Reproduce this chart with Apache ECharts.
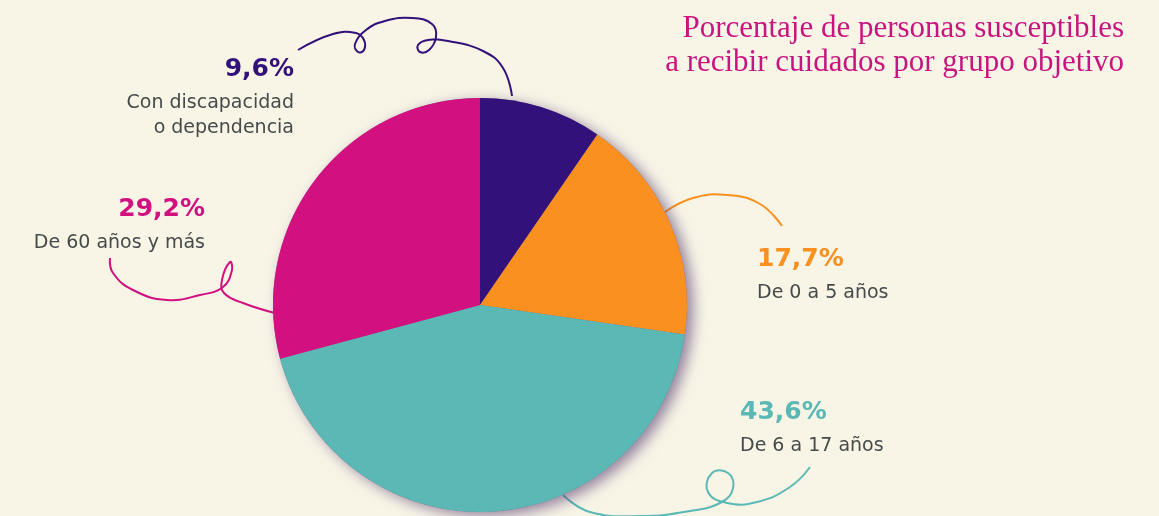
<!DOCTYPE html>
<html><head><meta charset="utf-8">
<script src="https://cdn.jsdelivr.net/npm/echarts@6/dist/echarts.min.js"></script>
<style>html,body{margin:0;padding:0;background:#F8F5E7;}#c{width:1159px;height:516px;}</style>
</head><body><div id="c"></div>
<script>
const categories = ['Con discapacidad\no dependencia', 'De 0 a 5 años', 'De 6 a 17 años', 'De 60 años y más'];
const values = [9.6, 17.7, 43.6, 29.2];
const valueLabels = ['9,6%', '17,7%', '43,6%', '29,2%'];
const colors = ['#33117A', '#F99020', '#5BB8B5', '#D2107F'];
const titleLines = ['Porcentaje de personas susceptibles', 'a recibir cuidados por grupo objetivo'];

// label anchor placement (layout, not data)
const labelPos = [
  {x: 294, y: 47, align: 'right'},
  {x: 757, y: 237, align: 'left'},
  {x: 740, y: 390, align: 'left'},
  {x: 205, y: 187, align: 'right'}
];

const chart = echarts.init(document.getElementById('c'), null, {renderer: 'canvas'});

function swirl(points, color) {
  return {type: 'polyline', z: 1, shape: {points: points, smooth: 0.45},
    style: {stroke: color, lineWidth: 2, fill: null}, silent: true};
}

const total = values.reduce((a, b) => a + b, 0);

chart.setOption({
  backgroundColor: '#F8F5E7',
  animation: false,
  graphic: [
    {type: 'text', x: 1124, y: 12, z: 10, style: {text: titleLines.join('\n'), align: 'right', verticalAlign: 'top',
      fill: '#C8147E', font: '31px "Liberation Serif"', lineHeight: 34}},
    swirl([[298,50],[333,34],[356,33],[364,40],[364,50],[358,52],[355,44],[366,30],[385,21],[412,18],[432,24],[436,37],[429,50],[420,52],[418,45],[428,40],[448,41],[483,51],[503,68],[512,96]], colors[0]),
    swirl([[665,212],[693,198],[727,195],[760,204],[782,226]], colors[1]),
    swirl([[563,495],[590,512],[640,516],[690,511],[722,502],[733,488],[728,473],[712,473],[708,492],[727,503],[757,502],[790,487],[810,467]], colors[2]),
    swirl([[275,313],[243,303],[224,293],[222,280],[230,262],[232,270],[223,287],[200,295],[167,300],[133,290],[113,273],[110,258]], colors[3])
  ],
  series: [{
    type: 'pie', z: 2, silent: true,
    center: [480, 305], radius: [0, 207],
    data: [{value: total, name: 'shadow'}],
    itemStyle: {color: '#7a6a8e', shadowColor: 'rgba(80,55,110,0.6)', shadowBlur: 14, shadowOffsetX: 6, shadowOffsetY: 4},
    label: {show: false}, labelLine: {show: false}
  }, {
    type: 'pie',
    z: 3,
    center: [480, 305],
    radius: [0, 207],
    startAngle: 90,
    clockwise: true,
    data: categories.map((n, i) => ({name: n, value: values[i], itemStyle: {color: colors[i]},
      label: {rich: {
        p: {color: colors[i], fontFamily: 'DejaVu Sans', fontWeight: 'bold', fontSize: 25, lineHeight: 44, align: labelPos[i].align},
        t: {color: '#454B4A', fontFamily: 'DejaVu Sans', fontSize: 19, lineHeight: 25, align: labelPos[i].align}
      }}})),
    itemStyle: {borderWidth: 0},
    label: {
      show: true,
      formatter: p => '{p|' + valueLabels[p.dataIndex] + '}\n' + p.name.split('\n').map(s => '{t|' + s + '}').join('\n')
    },
    labelLine: {show: false},
    labelLayout: p => ({x: labelPos[p.dataIndex].x, y: labelPos[p.dataIndex].y, align: labelPos[p.dataIndex].align, verticalAlign: 'top'})
  }]
});
</script></body></html>
